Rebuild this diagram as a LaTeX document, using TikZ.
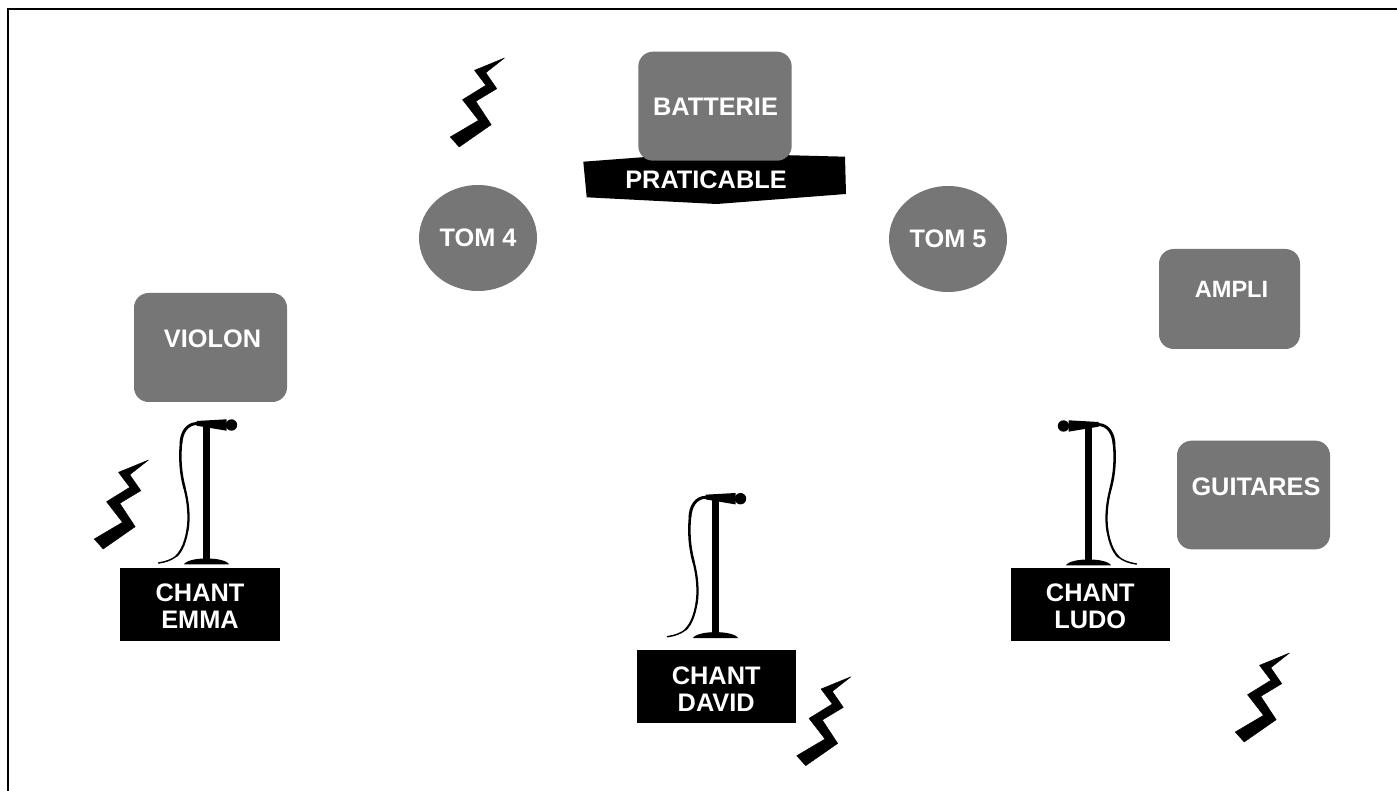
\documentclass[tikz,border=0pt]{standalone}
\usepackage{fontspec}
\usetikzlibrary{shapes.geometric}
\setmainfont{Liberation Sans}
\definecolor{ggrey}{HTML}{767676}
\tikzset{
  x=0.75pt,y=-0.75pt,
  lbl/.style={text=white,font=\fontsize{19pt}{20.5pt}\selectfont\bfseries,align=center,inner sep=0pt},
  greybox/.style={fill=ggrey,rounded corners=11pt,inner sep=0pt},
  blackbox/.style={fill=black,inner sep=0pt},
  tomdisc/.style={fill=ggrey,ellipse,inner sep=0pt},
  bolt/.pic={
    \filldraw[black,line width=0.3pt,line join=round] (0,0) -- (-18.7,14.7) -- (-7.7,30.7) -- (-28.7,43.3) -- (-13.3,66.7) -- (-45.3,89) -- (-54.3,79) -- (-26,62.3) -- (-42,41.7) -- (-18.7,27.3) -- (-30,12.3) -- cycle;
  },
  micstand/.pic={
    \fill[black] (-3.4,-138) rectangle (3.4,0);
    \fill[black] (-22.5,1.3) .. controls (-18,-6.5) and (18,-6.5) .. (22.5,1.3) -- cycle;
    \fill[black] (-10,-142) -- (20,-143.7) -- (20,-132.3) -- (-10,-137.3) -- cycle;
    \fill[black] (25,-138) circle[radius=5.7];
    \draw[black,line width=2.2pt,line cap=round] (-10,-139.5) .. controls (-20,-139) and (-25,-130) .. (-25.5,-120);
    \draw[black,line width=1.9pt,line cap=round] (-25.5,-120) .. controls (-27,-105) and (-26,-90) .. (-22,-75);
    \draw[black,line width=1.7pt,line cap=round] (-22,-75) .. controls (-18,-60) and (-17,-45) .. (-19,-33);
    \draw[black,line width=1.6pt,line cap=round] (-19,-33) .. controls (-21,-22) and (-24,-13) .. (-30,-7);
    \draw[black,line width=1.1pt,line cap=round] (-30,-7) .. controls (-35,-3) and (-41,-1) .. (-48,0);
  }
}
\begin{document}
\begin{tikzpicture}
\useasboundingbox (0,0) rectangle (1397,791);
\fill[white] (0,0) rectangle (1397,791);
\draw[black,line width=1.5pt] (8,791) -- (8,9) -- (1397,9);

% platform and drums
\fill[black] (583.3,161.7) -- (650,156.7) -- (780,155) -- (845,156.7) -- (846,194) -- (716.7,204) -- (586.7,197.3) -- cycle;
\node[greybox,minimum width=115pt,minimum height=81.75pt] (batterie) at (715,106.2) {};
\node[lbl] (batterietxt) at (715.5,106.5) {BATTERIE};
\node[lbl] (praticable) at (706,180) {PRATICABLE};
\node[tomdisc,minimum width=88.5pt,minimum height=79.5pt] (tomA) at (478,238) {};
\node[lbl] (tomAtxt) at (478,238) {TOM 4};
\node[tomdisc,minimum width=88.5pt,minimum height=79.5pt] (tomB) at (948,239) {};
\node[lbl] (tomBtxt) at (948,239) {TOM 5};

% grey boxes
\node[greybox,minimum width=114.75pt,minimum height=81.75pt] (violon) at (210.5,347.5) {};
\node[lbl] (violontxt) at (212.5,339) {VIOLON};
\node[greybox,minimum width=105.75pt,minimum height=75pt] (ampli) at (1229.5,299) {};
\node[lbl,font=\fontsize{17.7pt}{20pt}\selectfont\bfseries] (amplitxt) at (1231.5,289) {AMPLI};
\node[greybox,minimum width=114.75pt,minimum height=81.5pt] (guitares) at (1253.5,495) {};
\node[lbl] (guitarestxt) at (1256,487) {GUITARES};

% black label boxes
\node[blackbox,minimum width=120pt,minimum height=54.3pt] (emma) at (200,604.5) {};
\node[lbl] (emmatxt) at (200,606) {CHANT\\EMMA};
\node[blackbox,minimum width=119.25pt,minimum height=54.5pt] (david) at (716.2,686.3) {};
\node[lbl] (davidtxt) at (716.2,689) {CHANT\\DAVID};
\node[blackbox,minimum width=119.5pt,minimum height=54.3pt] (ludo) at (1090.3,604.5) {};
\node[lbl] (ludotxt) at (1090.3,606) {CHANT\\LUDO};

% microphones
\pic at (206.5,563) {micstand};
\pic at (715.5,636.7) {micstand};
\pic[xscale=-1] at (1088.5,564) {micstand};

% lightning bolts
\pic at (504.5,58) {bolt};
\pic at (148.5,460) {bolt};
\pic at (851,676.7) {bolt};
\pic at (1289.5,653) {bolt};
\end{tikzpicture}
\end{document}
